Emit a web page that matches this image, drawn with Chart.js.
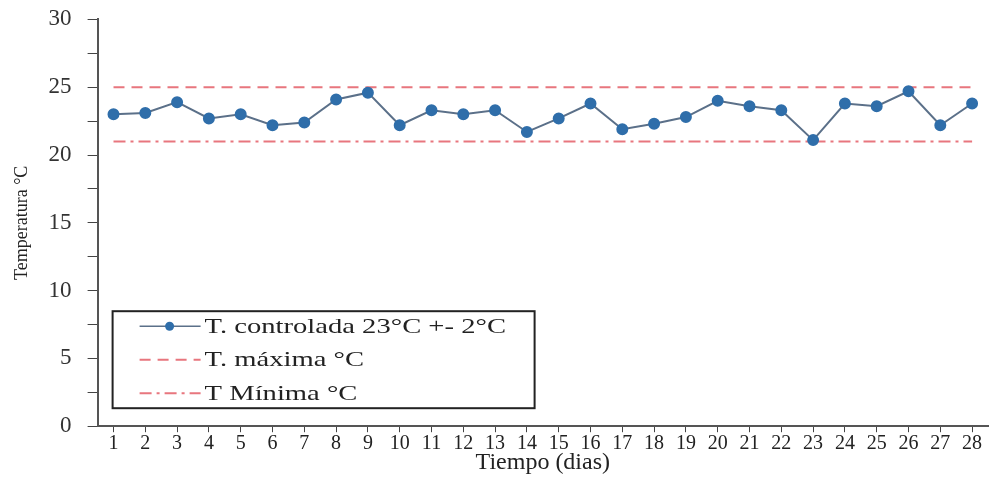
<!DOCTYPE html>
<html>
<head>
<meta charset="utf-8">
<script src="https://cdn.jsdelivr.net/npm/chart.js@4/dist/chart.umd.min.js"></script>
<style>
  html, body { margin: 0; padding: 0; background: #fff; }
  #wrap { width: 995px; height: 477px; }
</style>
</head>
<body>
<div id="wrap"><canvas id="tempChart"></canvas></div>
<script>
const days = ['1','2','3','4','5','6','7','8','9','10','11','12','13','14',
  '15','16','17','18','19','20','21','22','23','24','25','26','27','28'];
const controlled = [23.0, 23.1, 23.9, 22.7, 23.0, 22.2, 22.4, 24.1, 24.6, 22.2,
  23.3, 23.0, 23.3, 21.7, 22.7, 23.8, 21.9, 22.3, 22.8, 24.0,
  23.6, 23.3, 21.1, 23.8, 23.6, 24.7, 22.2, 23.8];
const tMax = days.map(() => 25);
const tMin = days.map(() => 21);

const legendLabels = ['T. controlada 23°C +- 2°C', 'T. máxima °C', 'T Mínima °C'];

const serif = '"Liberation Serif", "DejaVu Serif", serif';

// legend drawn inside the plot, bottom left
const boxLegend = {
  id: 'boxLegend',
  afterDraw(chart) {
    const ctx = chart.ctx;
    const a = chart.chartArea;
    const x0 = a.left + 15, y0 = a.bottom - 115, w = 422, h = 97;
    ctx.save();
    ctx.fillStyle = '#fff';
    ctx.fillRect(x0, y0, w, h);
    ctx.strokeStyle = '#222';
    ctx.lineWidth = 2;
    ctx.strokeRect(x0, y0, w, h);
    ctx.textBaseline = 'middle';
    chart.data.datasets.forEach((ds, i) => {
      const y = y0 + 15 + i * 33.5;
      ctx.strokeStyle = ds.borderColor;
      ctx.lineWidth = i === 0 ? 1.5 : 2;
      ctx.setLineDash(ds.borderDash || []);
      ctx.beginPath();
      ctx.moveTo(x0 + 27, y);
      ctx.lineTo(x0 + 88, y);
      ctx.stroke();
      ctx.setLineDash([]);
      if (i === 0) {
        ctx.fillStyle = ds.pointBackgroundColor;
        ctx.beginPath();
        ctx.arc(x0 + 57, y, 4.5, 0, Math.PI * 2);
        ctx.fill();
      }
      // the source text is wide, so stretch it a little
      ctx.save();
      ctx.translate(x0 + 92, y + 1);
      ctx.scale(1.3, 1);
      ctx.font = '22px ' + serif;
      ctx.fillStyle = '#222';
      ctx.fillText(legendLabels[i], 0, 0);
      ctx.restore();
    });
    ctx.restore();
  }
};

new Chart(document.getElementById('tempChart'), {
  type: 'line',
  data: {
    labels: days,
    datasets: [{
      label: legendLabels[0],
      data: controlled,
      borderColor: '#5b7089',
      borderWidth: 2,
      pointBackgroundColor: '#2f6eaa',
      pointBorderColor: '#2f6eaa',
      pointRadius: 5,
      tension: 0
    }, {
      label: legendLabels[1],
      data: tMax,
      borderColor: '#e8767e',
      borderWidth: 2,
      borderDash: [11, 7],
      pointRadius: 0
    }, {
      label: legendLabels[2],
      data: tMin,
      borderColor: '#e8767e',
      borderWidth: 2,
      borderDash: [12, 5, 3, 5],
      pointRadius: 0
    }]
  },
  options: {
    responsive: true,
    maintainAspectRatio: false,
    animation: false,
    layout: { padding: { top: 0, right: 0, left: 11, bottom: 0 } },
    plugins: {
      legend: { display: false },
      tooltip: { enabled: false }
    },
    scales: {
      x: {
        offset: true,
        grid: {
          drawOnChartArea: false,
          tickLength: 6,
          color: '#444'
        },
        border: { color: '#555', width: 2 },
        ticks: {
          color: '#222',
          padding: 0,
          maxRotation: 0,
          autoSkip: false,
          font: { family: serif, size: 20 }
        },
        title: {
          display: true,
          text: 'Tiempo (dias)',
          color: '#222',
          padding: { top: -8, bottom: 0 },
          font: { family: serif, size: 24 }
        }
      },
      y: {
        min: 0,
        max: 30,
        grid: {
          drawOnChartArea: false,
          tickLength: 10,
          color: '#444'
        },
        border: { color: '#555', width: 2 },
        ticks: {
          stepSize: 2.5,
          color: '#333',
          padding: 16,
          font: { family: serif, size: 23, lineHeight: 0.3 },
          callback: v => (v % 5 === 0 ? v : '')
        },
        title: {
          display: true,
          text: 'Temperatura °C',
          color: '#222',
          padding: { top: 0, bottom: 0 },
          font: { family: serif, size: 18 }
        }
      }
    }
  },
  plugins: [boxLegend]
});
</script>
</body>
</html>
